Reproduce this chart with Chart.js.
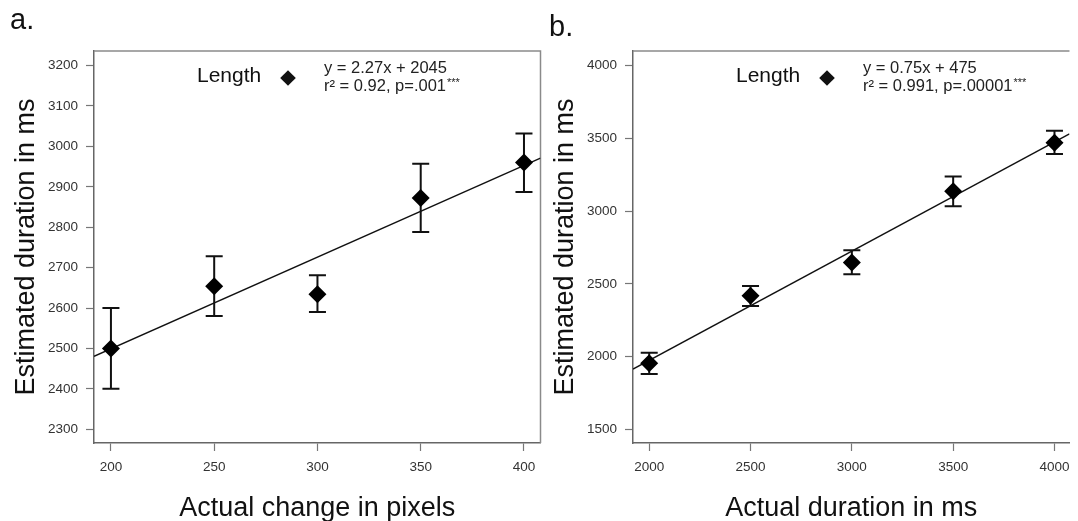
<!DOCTYPE html>
<html>
<head>
    <title>Estimated duration</title>
    <script src="https://cdn.jsdelivr.net/npm/chart.js"></script>
    <style>
        body {
            margin: 0;
            background: #fff;
        }
        #wrap {
            position: relative;
            width: 1078px;
            height: 521px;
            overflow: hidden;
        }
        canvas {
            position: absolute;
            top: 0;
        }
        #panelA { left: 0; }
        #panelB { left: 539px; }
    </style>
</head>
<body>
<div id="wrap">
    <canvas id="panelA" width="545" height="521"></canvas>
    <canvas id="panelB" width="539" height="521"></canvas>
</div>

<script>
    // a. estimated duration against change in pixels
    const pixelsX = [200, 250, 300, 350, 400];
    const pixelsMean = [2500, 2654, 2634, 2872, 2960];
    const pixelsUpper = [2600, 2728, 2681, 2957, 3032];
    const pixelsLower = [2400, 2580, 2590, 2788, 2887];
    const pixelsXTicks = [200, 250, 300, 350, 400];
    const pixelsYTicks = [2300, 2400, 2500, 2600, 2700, 2800, 2900, 3000, 3100, 3200];
    const pixelsSlope = 2.27;
    const pixelsIntercept = 2045;
    const pixelsStats = ['y = 2.27x + 2045', 'r\u00b2 = 0.92, p=.001'];

    // b. estimated duration against actual duration
    const durationX = [2000, 2500, 3000, 3500, 4000];
    const durationMean = [1955, 2418, 2647, 3137, 3470];
    const durationUpper = [2027, 2486, 2732, 3238, 3552];
    const durationLower = [1881, 2349, 2567, 3033, 3392];
    const durationXTicks = [2000, 2500, 3000, 3500, 4000];
    const durationYTicks = [1500, 2000, 2500, 3000, 3500, 4000];
    const durationSlope = 0.75;
    const durationIntercept = 475;
    const durationStats = ['y = 0.75x + 475', 'r\u00b2 = 0.991, p=.00001'];

    const seriesName = 'Length';
    const FONT = '"Liberation Sans", Arial, sans-serif';

    Chart.defaults.font.family = FONT;

    // whiskers drawn under the diamonds
    function errorBars(xs, lower, upper) {
        return {
            id: 'errorBars',
            beforeDatasetsDraw(chart) {
                const {ctx, scales: {x, y}} = chart;
                ctx.save();
                ctx.strokeStyle = '#111';
                ctx.lineWidth = 2;
                xs.forEach((v, i) => {
                    const px = x.getPixelForValue(v);
                    const top = y.getPixelForValue(upper[i]);
                    const bot = y.getPixelForValue(lower[i]);
                    ctx.beginPath();
                    ctx.moveTo(px, top);
                    ctx.lineTo(px, bot);
                    ctx.moveTo(px - 8.5, top);
                    ctx.lineTo(px + 8.5, top);
                    ctx.moveTo(px - 8.5, bot);
                    ctx.lineTo(px + 8.5, bot);
                    ctx.stroke();
                });
                ctx.restore();
            }
        };
    }

    // panel letter, top/right frame, legend entry and fit statistics
    function panelDecor(letter, letterY, stats, rightEdge) {
        return {
            id: 'panelDecor',
            beforeDatasetsDraw(chart) {
                const {ctx, chartArea: a} = chart;
                ctx.save();
                ctx.strokeStyle = '#8a8a8a';
                ctx.lineWidth = 1.5;
                ctx.beginPath();
                ctx.moveTo(a.left, a.top);
                ctx.lineTo(a.right, a.top);
                if (rightEdge) {
                    ctx.lineTo(a.right, a.bottom);
                }
                ctx.stroke();
                ctx.restore();
            },
            afterDraw(chart) {
                const {ctx, chartArea: a} = chart;
                ctx.save();
                ctx.fillStyle = '#111';
                ctx.textBaseline = 'alphabetic';
                ctx.font = '29px ' + FONT;
                ctx.fillText(letter, 10, letterY);

                ctx.font = '21px ' + FONT;
                ctx.fillText(chart.data.datasets[0].label, a.left + 103, 82);

                const cx = a.left + 194, cy = 78, r = 7.8;
                ctx.beginPath();
                ctx.moveTo(cx, cy - r);
                ctx.lineTo(cx + r, cy);
                ctx.lineTo(cx, cy + r);
                ctx.lineTo(cx - r, cy);
                ctx.closePath();
                ctx.fill();

                ctx.fillStyle = '#222';
                ctx.font = '16.5px ' + FONT;
                ctx.fillText(stats[0], a.left + 230, 72.5);
                ctx.fillText(stats[1], a.left + 230, 90.5);
                const w = ctx.measureText(stats[1]).width;
                ctx.font = '11px ' + FONT;
                ctx.fillText('***', a.left + 230 + w + 1, 86);
                ctx.restore();
            }
        };
    }

    function makePanel(id, p) {
        return new Chart(document.getElementById(id), {
            type: 'scatter',
            data: {
                datasets: [{
                    label: seriesName,
                    data: p.xs.map((x, i) => ({x: x, y: p.mean[i]})),
                    pointStyle: 'rectRot',
                    pointRadius: 9,
                    backgroundColor: '#000',
                    borderColor: '#000',
                    borderWidth: 0,
                    order: 0
                }, {
                    type: 'line',
                    data: [p.xMin, p.xMax].map(x => ({x: x, y: p.slope * x + p.intercept})),
                    borderColor: '#111',
                    borderWidth: 1.4,
                    pointRadius: 0,
                    order: 1
                }]
            },
            options: {
                responsive: false,
                animation: false,
                layout: {
                    autoPadding: false,
                    padding: {top: 51, right: p.padRight, left: 0, bottom: 0}
                },
                plugins: {
                    legend: {display: false},
                    tooltip: {enabled: false}
                },
                scales: {
                    x: {
                        type: 'linear',
                        min: p.xMin,
                        max: p.xMax,
                        afterBuildTicks: s => { s.ticks = p.xTicks.map(v => ({value: v})); },
                        afterFit: s => { s.height = 78; },
                        border: {color: '#666', width: 1.5},
                        grid: {drawOnChartArea: false, tickLength: 8, tickColor: '#777', tickWidth: 1.2},
                        ticks: {
                            color: '#333',
                            padding: 8.5,
                            font: {size: 13.5},
                            maxRotation: 0,
                            callback: v => String(v)
                        },
                        title: {
                            display: true,
                            text: p.xTitle,
                            color: '#111',
                            font: {size: 27, lineHeight: 0.9},
                            padding: {top: 0, bottom: 0}
                        }
                    },
                    y: {
                        type: 'linear',
                        min: p.yMin,
                        max: p.yMax,
                        afterBuildTicks: s => { s.ticks = p.yTicks.map(v => ({value: v})); },
                        afterFit: s => { s.width = 94; },
                        border: {color: '#666', width: 1.5},
                        grid: {drawOnChartArea: false, tickLength: 8, tickColor: '#777', tickWidth: 1.2},
                        ticks: {
                            color: '#333',
                            padding: 8,
                            font: {size: 13.5},
                            callback: v => String(v)
                        },
                        title: {
                            display: true,
                            text: 'Estimated duration in ms',
                            color: '#111',
                            font: {size: 27, lineHeight: 1},
                            padding: {top: 13.5, bottom: 0}
                        }
                    }
                }
            },
            plugins: [
                errorBars(p.xs, p.lower, p.upper),
                panelDecor(p.letter, p.letterY, p.stats, p.rightEdge)
            ]
        });
    }

    makePanel('panelA', {
        xs: pixelsX, mean: pixelsMean, lower: pixelsLower, upper: pixelsUpper,
        xTicks: pixelsXTicks, yTicks: pixelsYTicks,
        slope: pixelsSlope, intercept: pixelsIntercept, stats: pixelsStats,
        xMin: 191.8, xMax: 408, yMin: 2266, yMax: 3236,
        xTitle: 'Actual change in pixels',
        letter: 'a.', letterY: 29, padRight: 4.5, rightEdge: true
    });

    makePanel('panelB', {
        xs: durationX, mean: durationMean, lower: durationLower, upper: durationUpper,
        xTicks: durationXTicks, yTicks: durationYTicks,
        slope: durationSlope, intercept: durationIntercept, stats: durationStats,
        xMin: 1920, xMax: 4074, yMin: 1407, yMax: 4100,
        xTitle: 'Actual duration in ms',
        letter: 'b.', letterY: 36, padRight: 0, rightEdge: false
    });
</script>
</body>
</html>
